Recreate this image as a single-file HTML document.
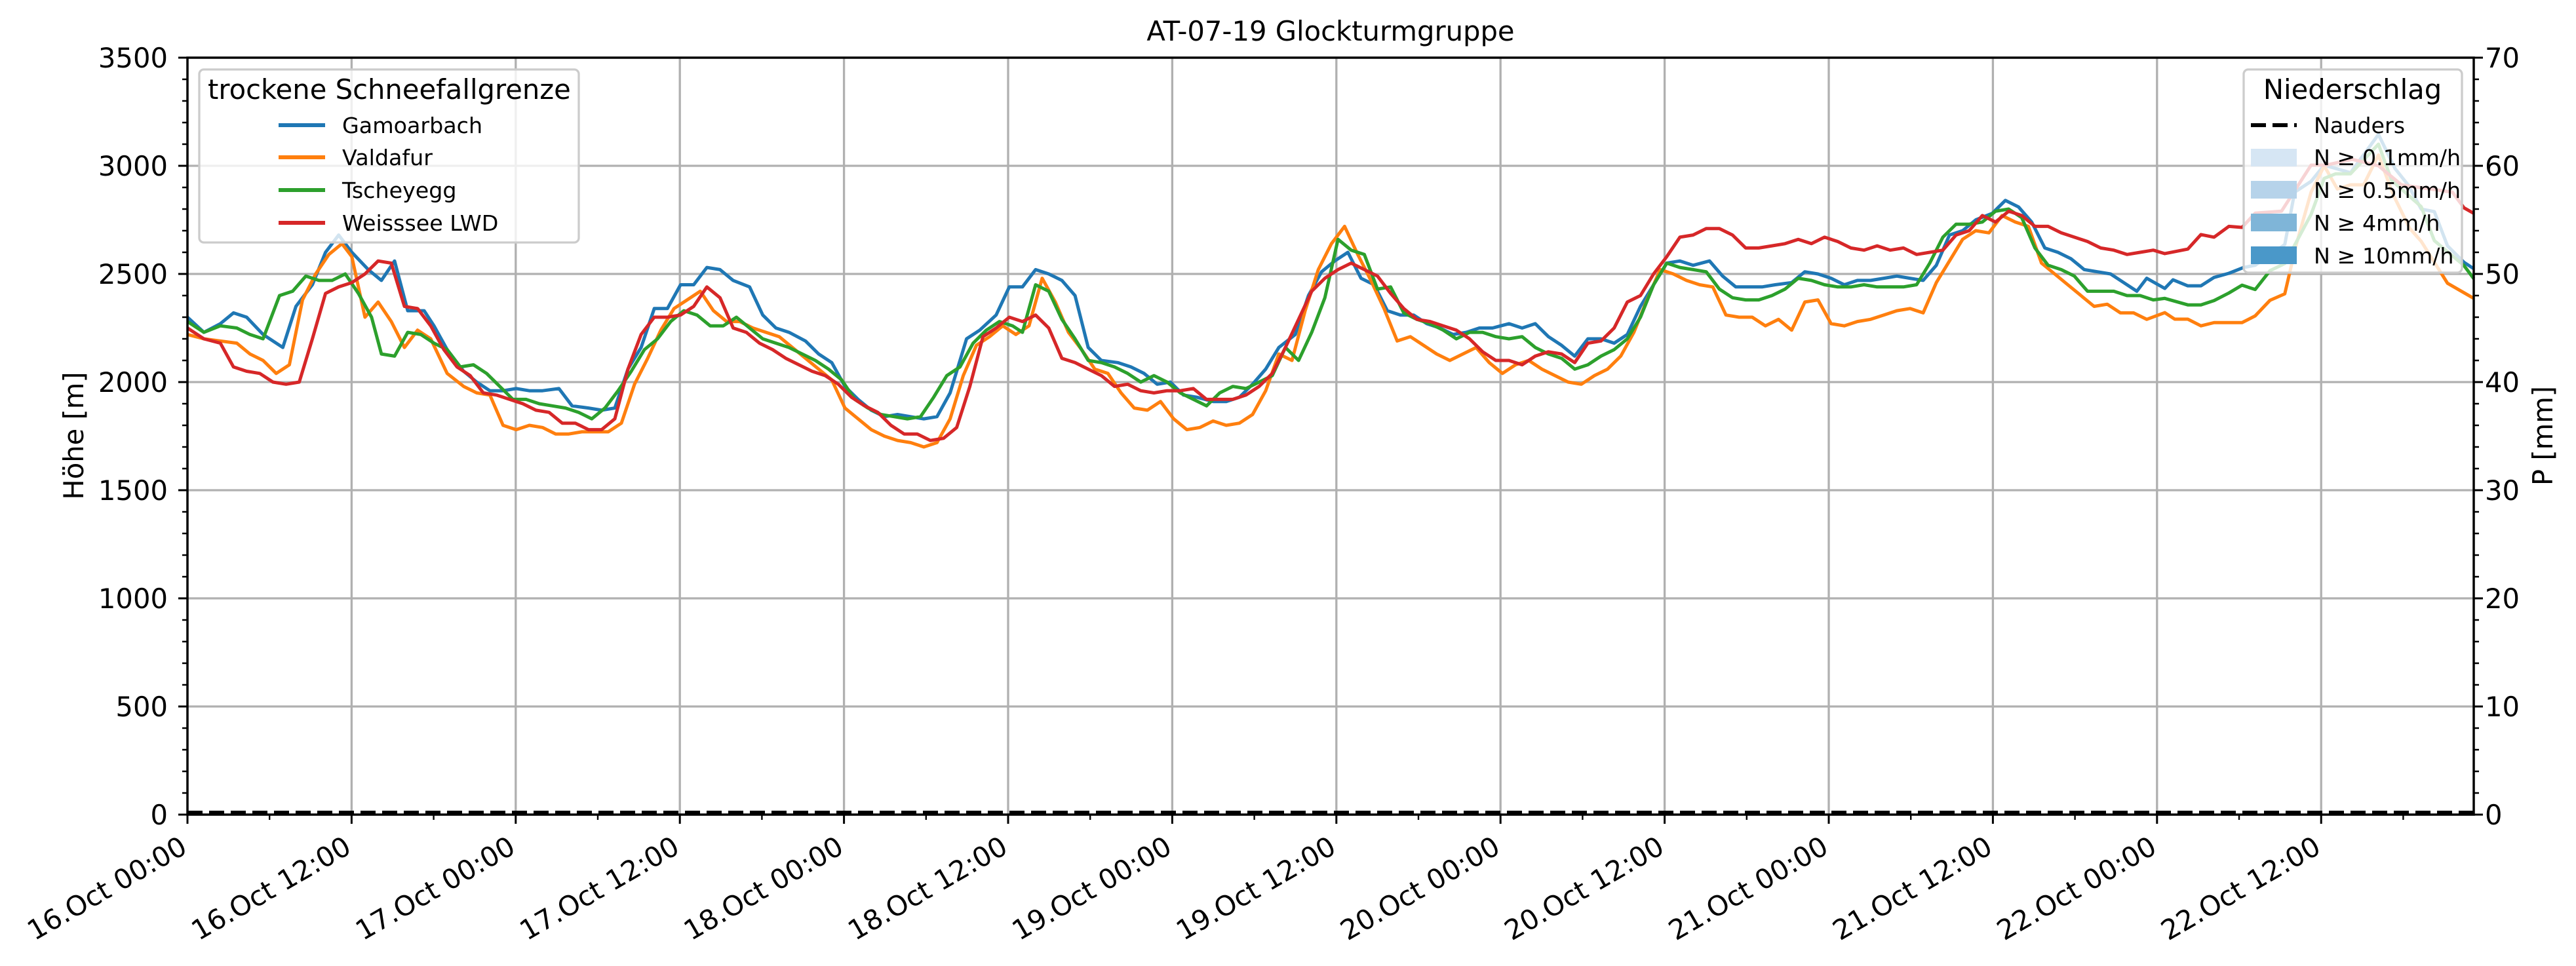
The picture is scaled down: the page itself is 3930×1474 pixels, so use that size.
<!DOCTYPE html>
<html><head><meta charset="utf-8"><style>
html,body{margin:0;padding:0;background:#fff;}
svg{display:block;font-family:"DejaVu Sans","Liberation Sans",sans-serif;}
</style></head><body>
<svg width="3930" height="1474" viewBox="0 0 3930 1474" xmlns="http://www.w3.org/2000/svg">
<rect width="3930" height="1474" fill="#fff"/>
<!-- grid -->
<g stroke="#b0b0b0" stroke-width="3.3">
<line x1="286" x2="3774" y1="253" y2="253"/><line x1="286" x2="3774" y1="418" y2="418"/><line x1="286" x2="3774" y1="583" y2="583"/><line x1="286" x2="3774" y1="748" y2="748"/><line x1="286" x2="3774" y1="913" y2="913"/><line x1="286" x2="3774" y1="1078" y2="1078"/>
<line x1="536.4" x2="536.4" y1="88" y2="1243"/><line x1="786.8" x2="786.8" y1="88" y2="1243"/><line x1="1037.2" x2="1037.2" y1="88" y2="1243"/><line x1="1287.6" x2="1287.6" y1="88" y2="1243"/><line x1="1538" x2="1538" y1="88" y2="1243"/><line x1="1788.4" x2="1788.4" y1="88" y2="1243"/><line x1="2038.8" x2="2038.8" y1="88" y2="1243"/><line x1="2289.2" x2="2289.2" y1="88" y2="1243"/><line x1="2539.6" x2="2539.6" y1="88" y2="1243"/><line x1="2790" x2="2790" y1="88" y2="1243"/><line x1="3040.4" x2="3040.4" y1="88" y2="1243"/><line x1="3290.8" x2="3290.8" y1="88" y2="1243"/><line x1="3541.2" x2="3541.2" y1="88" y2="1243"/>
</g>
<!-- data -->
<g transform="translate(286 1243) scale(2.5076 -0.33) translate(-114 0)" fill="none" stroke-width="5" stroke-linejoin="round">
<polyline vector-effect="non-scaling-stroke" stroke="#1f77b4" points="114,2300 124,2230 134,2270 142,2320 150,2300 160,2220 172,2160 180,2350 190,2450 198,2600 206,2680 214,2600 224,2520 232,2470 240,2560 248,2330 258,2330 264,2260 272,2150 282,2050 290,2000 298,1960 306,1960 314,1970 322,1960 330,1960 340,1970 348,1890 358,1880 366,1870 374,1880 382,2060 390,2160 398,2340 406,2340 414,2450 422,2450 430,2530 438,2520 446,2470 456,2440 464,2310 472,2250 480,2230 490,2190 498,2130 506,2090 514,1980 522,1920 530,1870 538,1840 546,1850 554,1840 562,1830 570,1840 578,1950 588,2200 596,2240 606,2310 614,2440 622,2440 630,2520 638,2500 646,2470 654,2400 662,2160 670,2100 680,2090 688,2070 696,2040 704,1990 712,2000 720,1940 728,1930 738,1910 746,1910 754,1930 762,1990 770,2060 778,2160 788,2220 796,2400 804,2510 812,2560 820,2600 828,2480 836,2450 844,2330 852,2310 860,2310 868,2270 876,2250 884,2220 892,2230 900,2250 908,2250 918,2270 926,2250 934,2270 942,2210 950,2170 958,2120 966,2200 974,2200 982,2180 990,2220 998,2350 1006,2450 1014,2550 1022,2560 1030,2540 1040,2560 1048,2490 1056,2440 1064,2440 1072,2440 1080,2450 1090,2460 1098,2510 1106,2500 1114,2480 1122,2450 1130,2470 1138,2470 1146,2480 1154,2490 1162,2480 1170,2470 1178,2540 1186,2680 1194,2700 1202,2750 1212,2780 1220,2840 1228,2810 1236,2740 1244,2620 1252,2600 1260,2570 1268,2520 1276,2510 1284,2500 1292,2460 1300,2420 1306,2480 1317,2433 1322,2473 1331,2445 1339,2445 1347,2484 1356,2503 1365,2530 1372,2540 1390,2636 1396,2878 1406,2928 1414,3003 1430,2968 1447,3145 1457,2988 1465,2912 1473,2800 1481,2788 1489,2630 1499,2554 1505,2524"/>
<polyline vector-effect="non-scaling-stroke" stroke="#ff7f0e" points="114,2220 124,2200 134,2190 144,2180 152,2130 160,2100 168,2040 176,2080 184,2380 192,2500 200,2590 208,2640 214,2580 222,2300 230,2370 238,2280 246,2160 254,2240 262,2200 272,2040 282,1980 290,1950 298,1940 306,1800 314,1780 322,1800 330,1790 338,1760 346,1760 354,1770 362,1770 370,1770 378,1810 386,1990 394,2110 402,2240 410,2340 418,2380 426,2420 434,2330 442,2280 450,2280 458,2250 466,2230 474,2210 482,2160 490,2110 498,2060 506,2010 514,1880 522,1830 530,1780 538,1750 546,1730 554,1720 562,1700 570,1720 578,1830 586,2030 594,2170 602,2210 610,2260 618,2220 626,2260 634,2480 642,2370 650,2230 658,2150 666,2060 674,2040 682,1950 690,1880 698,1870 706,1910 714,1830 722,1780 730,1790 738,1820 746,1800 754,1810 762,1850 770,1960 778,2130 786,2100 794,2330 802,2520 810,2640 818,2720 826,2590 834,2470 842,2340 850,2190 858,2210 866,2170 874,2130 882,2100 890,2130 898,2160 906,2090 914,2040 922,2080 930,2100 938,2060 946,2030 954,2000 962,1990 970,2030 978,2060 986,2120 994,2230 1002,2380 1010,2520 1018,2500 1026,2470 1034,2450 1042,2440 1050,2310 1058,2300 1066,2300 1074,2260 1082,2290 1090,2240 1098,2370 1106,2380 1114,2270 1122,2260 1130,2280 1138,2290 1146,2310 1154,2330 1162,2340 1170,2320 1178,2460 1186,2560 1194,2660 1202,2700 1210,2690 1218,2770 1226,2740 1234,2720 1242,2550 1250,2500 1258,2450 1266,2400 1274,2350 1282,2360 1290,2320 1298,2320 1306,2290 1317,2321 1323,2291 1331,2291 1339,2260 1347,2275 1364,2275 1372,2306 1381,2378 1390,2408 1397,2636 1406,2878 1414,3000 1422,2893 1430,2912 1438,2912 1447,3050 1456,2866 1466,2711 1473,2651 1489,2457 1505,2387"/>
<polyline vector-effect="non-scaling-stroke" stroke="#2ca02c" points="114,2280 124,2230 134,2260 144,2250 152,2220 160,2200 170,2400 178,2420 186,2490 194,2470 202,2470 210,2500 218,2410 226,2300 232,2130 240,2120 248,2230 256,2220 264,2180 272,2150 280,2070 288,2080 296,2040 304,1980 312,1920 320,1920 328,1900 336,1890 344,1880 352,1860 360,1830 368,1880 376,1960 384,2050 392,2150 400,2200 408,2280 416,2330 424,2310 432,2260 440,2260 448,2300 456,2250 464,2200 472,2180 480,2160 488,2130 496,2100 504,2060 512,2010 520,1920 528,1880 536,1850 544,1840 552,1830 560,1840 568,1930 576,2030 584,2070 592,2180 600,2240 608,2280 616,2260 622,2230 630,2450 638,2420 646,2290 654,2200 662,2100 670,2090 678,2070 686,2040 694,2000 702,2030 710,2000 718,1950 726,1920 734,1890 742,1950 750,1980 758,1970 766,2000 774,2030 782,2160 790,2100 798,2230 806,2390 814,2660 822,2610 830,2590 838,2430 846,2440 854,2320 862,2290 870,2270 878,2240 886,2200 894,2230 902,2230 910,2210 918,2200 926,2210 934,2160 942,2130 950,2110 958,2060 966,2080 974,2120 982,2150 990,2200 998,2300 1006,2450 1014,2550 1022,2530 1030,2520 1038,2510 1046,2430 1054,2390 1062,2380 1070,2380 1078,2400 1086,2430 1094,2480 1102,2470 1110,2450 1118,2440 1126,2440 1134,2450 1142,2440 1150,2440 1158,2440 1166,2450 1174,2550 1182,2670 1190,2730 1198,2730 1206,2740 1214,2790 1222,2800 1230,2760 1238,2620 1246,2540 1254,2520 1262,2490 1270,2420 1278,2420 1286,2420 1294,2400 1302,2400 1310,2380 1317,2387 1331,2357 1339,2357 1347,2377 1356,2412 1364,2448 1372,2428 1381,2515 1390,2548 1406,2775 1414,2942 1421,2963 1430,2963 1447,3100 1455,2933 1473,2811 1481,2654 1499,2539 1505,2478"/>
<polyline vector-effect="non-scaling-stroke" stroke="#d62728" points="114,2250 124,2200 134,2180 142,2070 150,2050 158,2040 166,2000 174,1990 182,2000 190,2200 198,2410 206,2440 214,2460 222,2500 230,2560 238,2550 246,2350 254,2340 262,2260 270,2150 278,2070 286,2030 294,1950 302,1940 310,1920 318,1900 326,1870 334,1860 342,1810 350,1810 358,1780 366,1780 374,1830 382,2060 390,2220 398,2300 406,2300 414,2310 422,2350 430,2440 438,2390 446,2250 454,2230 462,2180 470,2150 478,2110 486,2080 494,2050 502,2030 510,1990 518,1930 526,1890 534,1860 542,1800 550,1760 558,1760 566,1730 574,1740 582,1790 590,1980 598,2210 606,2250 614,2300 622,2280 630,2310 638,2250 646,2110 654,2090 662,2060 670,2030 678,1980 686,1990 694,1960 702,1950 710,1960 718,1960 726,1970 734,1920 742,1920 750,1920 758,1940 766,1980 774,2040 782,2160 790,2290 798,2420 806,2480 814,2520 822,2550 830,2520 838,2490 846,2410 854,2340 862,2290 870,2280 878,2260 886,2240 894,2200 902,2140 910,2100 918,2100 926,2080 934,2120 942,2140 950,2130 958,2090 966,2180 974,2190 982,2250 990,2370 998,2400 1006,2500 1014,2580 1022,2670 1030,2680 1038,2710 1046,2710 1054,2680 1062,2620 1070,2620 1078,2630 1086,2640 1094,2660 1102,2640 1110,2670 1118,2650 1126,2620 1134,2610 1142,2630 1150,2610 1158,2620 1166,2590 1174,2600 1182,2610 1190,2680 1198,2700 1206,2770 1214,2740 1222,2790 1230,2770 1238,2720 1246,2720 1254,2690 1262,2670 1270,2650 1278,2620 1286,2610 1294,2590 1302,2600 1310,2610 1317,2594 1331,2615 1339,2682 1347,2670 1356,2720 1364,2715 1372,2781 1388,2790 1406,3003 1415,3003 1431,3030 1447,3000 1461,2912 1492,2878 1499,2806 1505,2780"/>
</g>
<!-- Nauders dashed -->
<line x1="286" x2="3774" y1="1240" y2="1240" stroke="#000" stroke-width="6" stroke-dasharray="23 10"/>
<!-- spines -->
<rect x="286" y="88" width="3488" height="1155" fill="none" stroke="#000" stroke-width="3.5"/>
<!-- left ticks -->
<g stroke="#000" stroke-width="3">
<line x1="272" x2="286" y1="88" y2="88"/><line x1="272" x2="286" y1="253" y2="253"/><line x1="272" x2="286" y1="418" y2="418"/><line x1="272" x2="286" y1="583" y2="583"/><line x1="272" x2="286" y1="748" y2="748"/><line x1="272" x2="286" y1="913" y2="913"/><line x1="272" x2="286" y1="1078" y2="1078"/><line x1="272" x2="286" y1="1243" y2="1243"/>
<line x1="3774" x2="3788" y1="88" y2="88"/><line x1="3774" x2="3788" y1="253" y2="253"/><line x1="3774" x2="3788" y1="418" y2="418"/><line x1="3774" x2="3788" y1="583" y2="583"/><line x1="3774" x2="3788" y1="748" y2="748"/><line x1="3774" x2="3788" y1="913" y2="913"/><line x1="3774" x2="3788" y1="1078" y2="1078"/><line x1="3774" x2="3788" y1="1243" y2="1243"/>
</g>
<g stroke="#000" stroke-width="2.4">
<path d="M278 121H286M278 154H286M278 187H286M278 220H286M278 286H286M278 319H286M278 352H286M278 385H286M278 451H286M278 484H286M278 517H286M278 550H286M278 616H286M278 649H286M278 682H286M278 715H286M278 781H286M278 814H286M278 847H286M278 880H286M278 946H286M278 979H286M278 1012H286M278 1045H286M278 1111H286M278 1144H286M278 1177H286M278 1210H286"/>
<path d="M3774 121H3782M3774 154H3782M3774 187H3782M3774 220H3782M3774 286H3782M3774 319H3782M3774 352H3782M3774 385H3782M3774 451H3782M3774 484H3782M3774 517H3782M3774 550H3782M3774 616H3782M3774 649H3782M3774 682H3782M3774 715H3782M3774 781H3782M3774 814H3782M3774 847H3782M3774 880H3782M3774 946H3782M3774 979H3782M3774 1012H3782M3774 1045H3782M3774 1111H3782M3774 1144H3782M3774 1177H3782M3774 1210H3782"/>
<path d="M411.2 1243V1251M661.6 1243V1251M912 1243V1251M1162.4 1243V1251M1412.8 1243V1251M1663.2 1243V1251M1913.6 1243V1251M2164 1243V1251M2414.4 1243V1251M2664.8 1243V1251M2915.2 1243V1251M3165.6 1243V1251M3416 1243V1251M3666.4 1243V1251"/>
</g>
<g stroke="#000" stroke-width="3">
<path d="M286 1243V1257M536.4 1243V1257M786.8 1243V1257M1037.2 1243V1257M1287.6 1243V1257M1538 1243V1257M1788.4 1243V1257M2038.8 1243V1257M2289.2 1243V1257M2539.6 1243V1257M2790 1243V1257M3040.4 1243V1257M3290.8 1243V1257M3541.2 1243V1257"/>
</g>
<!-- tick labels -->
<g font-size="41.7" fill="#000" text-anchor="end">
<text x="256" y="103">3500</text><text x="256" y="268">3000</text><text x="256" y="433">2500</text><text x="256" y="598">2000</text><text x="256" y="763">1500</text><text x="256" y="928">1000</text><text x="256" y="1093">500</text><text x="256" y="1258">0</text>
</g>
<g font-size="41.7" fill="#000">
<text x="3791" y="103">70</text><text x="3791" y="268">60</text><text x="3791" y="433">50</text><text x="3791" y="598">40</text><text x="3791" y="763">30</text><text x="3791" y="928">20</text><text x="3791" y="1093">10</text><text x="3791" y="1258">0</text>
</g>
<g font-size="41.7" fill="#000" text-anchor="end">
<text transform="translate(288 1300) rotate(-30)">16.Oct 00:00</text>
<text transform="translate(538.4 1300) rotate(-30)">16.Oct 12:00</text>
<text transform="translate(788.8 1300) rotate(-30)">17.Oct 00:00</text>
<text transform="translate(1039.2 1300) rotate(-30)">17.Oct 12:00</text>
<text transform="translate(1289.6 1300) rotate(-30)">18.Oct 00:00</text>
<text transform="translate(1540 1300) rotate(-30)">18.Oct 12:00</text>
<text transform="translate(1790.4 1300) rotate(-30)">19.Oct 00:00</text>
<text transform="translate(2040.8 1300) rotate(-30)">19.Oct 12:00</text>
<text transform="translate(2291.2 1300) rotate(-30)">20.Oct 00:00</text>
<text transform="translate(2541.6 1300) rotate(-30)">20.Oct 12:00</text>
<text transform="translate(2792 1300) rotate(-30)">21.Oct 00:00</text>
<text transform="translate(3042.4 1300) rotate(-30)">21.Oct 12:00</text>
<text transform="translate(3292.8 1300) rotate(-30)">22.Oct 00:00</text>
<text transform="translate(3543.2 1300) rotate(-30)">22.Oct 12:00</text>
</g>
<!-- axis labels & title -->
<text transform="translate(127 665) rotate(-90)" font-size="41.7" text-anchor="middle">Höhe [m]</text>
<text transform="translate(3894 665) rotate(-90)" font-size="41.7" text-anchor="middle">P [mm]</text>
<text x="2030" y="62" font-size="41.7" text-anchor="middle">AT-07-19 Glockturmgruppe</text>
<!-- left legend -->
<rect x="304" y="106" width="579" height="264" rx="7" fill="#fff" fill-opacity="0.8" stroke="#cccccc" stroke-width="3.3"/>
<text x="317" y="151" font-size="41.7">trockene Schneefallgrenze</text>
<g stroke-width="6">
<line x1="425" x2="496" y1="191" y2="191" stroke="#1f77b4"/>
<line x1="425" x2="496" y1="240" y2="240" stroke="#ff7f0e"/>
<line x1="425" x2="496" y1="290" y2="290" stroke="#2ca02c"/>
<line x1="425" x2="496" y1="340" y2="340" stroke="#d62728"/>
</g>
<g font-size="33.3">
<text x="522" y="203">Gamoarbach</text><text x="522" y="252">Valdafur</text><text x="522" y="302">Tscheyegg</text><text x="522" y="352">Weisssee LWD</text>
</g>
<!-- right legend -->
<rect x="3423" y="106" width="333" height="310" rx="7" fill="#fff" fill-opacity="0.8" stroke="#cccccc" stroke-width="3.3"/>
<text x="3589" y="151" font-size="41.7" text-anchor="middle">Niederschlag</text>
<line x1="3434" x2="3504" y1="191" y2="191" stroke="#000" stroke-width="6" stroke-dasharray="23 10"/>
<rect x="3434" y="227" width="70" height="27" fill="#d6e6f4"/>
<rect x="3434" y="276" width="70" height="27" fill="#b6d3ea"/>
<rect x="3434" y="326" width="70" height="27" fill="#7fb5d8"/>
<rect x="3434" y="376" width="70" height="27" fill="#4a98c9"/>
<g font-size="33.3">
<text x="3530" y="203">Nauders</text><text x="3530" y="252">N ≥ 0.1mm/h</text><text x="3530" y="302">N ≥ 0.5mm/h</text><text x="3530" y="352">N ≥ 4mm/h</text><text x="3530" y="402">N ≥ 10mm/h</text>
</g>
</svg>
</body></html>
